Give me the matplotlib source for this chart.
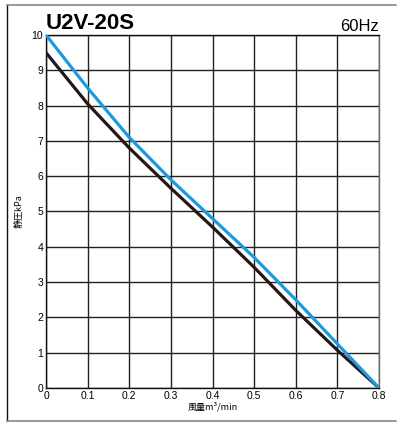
import matplotlib
matplotlib.use('Agg')
import matplotlib.pyplot as plt
from matplotlib.lines import Line2D

# data
flow = [0, 0.1, 0.2, 0.3, 0.4, 0.5, 0.6, 0.7, 0.8]
press_blue = [10, 8.5, 7.1, 5.9, 4.8, 3.7, 2.5, 1.25, 0]
press_black = [9.5, 8.05, 6.8, 5.66, 4.56, 3.42, 2.2, 1.07, 0]
xticks = [0, 0.1, 0.2, 0.3, 0.4, 0.5, 0.6, 0.7, 0.8]
xtick_labels = ['0', '0.1', '0.2', '0.3', '0.4', '0.5', '0.6', '0.7', '0.8']
yticks = list(range(0, 11))

arial = ['Liberation Sans', 'DejaVu Sans']
cjk = ['Noto Sans CJK JP', 'DejaVu Sans']

fig = plt.figure(figsize=(3.99, 4.22), dpi=100)
ax = fig.add_axes([46/399, 1-388/422, (379-46)/399, (388-35)/422])

ax.plot(flow, press_black, color='#231815', lw=2.3, solid_capstyle='round', zorder=3)
ax.plot(flow, press_blue, color='#1a9be0', lw=2.3, solid_capstyle='round', zorder=4)

ax.set_xlim(0, 0.8)
ax.set_ylim(0, 10)
ax.set_xticks(xticks)
ax.set_xticklabels(xtick_labels)
ax.set_yticks(yticks)
ax.grid(True, color='#222222', lw=1.0)
ax.tick_params(length=0, pad=2, labelsize=7.5)
for lab in ax.get_xticklabels() + ax.get_yticklabels():
    lab.set_family(arial)

for s in ax.spines.values():
    s.set_color('#111111')
    s.set_linewidth(1.0)
ax.spines['right'].set_color('#666666')

ax.set_xlabel('風量m³/min', family=cjk, fontsize=6.5, labelpad=1)
ax.set_ylabel('静圧kPa', family=cjk, fontsize=6.5, labelpad=6)

ax.text(0, 1.003, 'U2V-20S', transform=ax.transAxes, ha='left', va='bottom',
        fontsize=16, fontweight='bold', family=arial)
ax.text(1.0, 1.003, '60Hz', transform=ax.transAxes, ha='right', va='bottom',
        fontsize=12, family=arial)

# outer frame
fig.add_artist(Line2D([7/399, 7/399], [1-5/422, 1-420.5/422], color='#111111', lw=1.0,
                      transform=fig.transFigure))
fig.add_artist(Line2D([7/399, 396/399], [1-5/422, 1-5/422], color='#888888', lw=1.2,
                      transform=fig.transFigure))
fig.add_artist(Line2D([7/399, 396/399], [1-420.5/422, 1-420.5/422], color='#888888', lw=1.2,
                      transform=fig.transFigure))

fig.savefig('out.png', dpi=100)
